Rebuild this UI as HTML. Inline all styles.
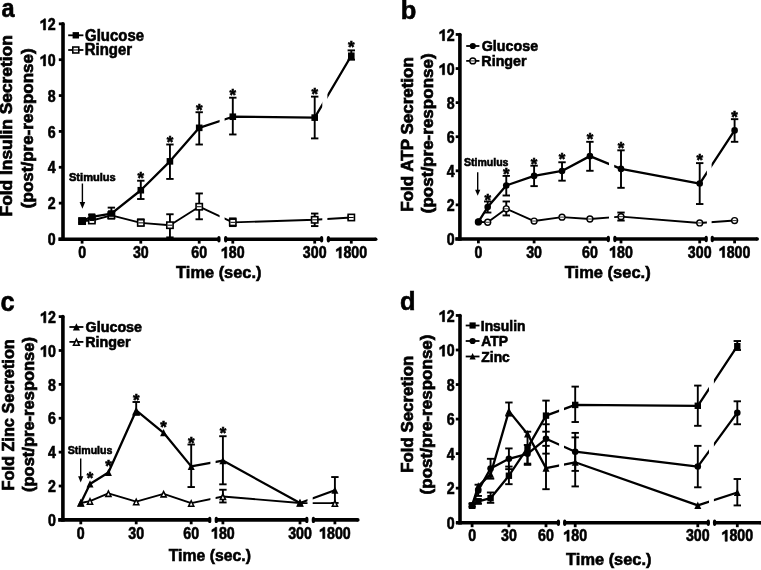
<!DOCTYPE html>
<html><head><meta charset="utf-8"><style>
html,body{margin:0;padding:0;background:#fff;overflow:hidden;}
svg{display:block;will-change:transform;}
text{font-family:"Liberation Sans", sans-serif;font-weight:bold;fill:#000;}
</style></head><body>
<svg width="761" height="570" viewBox="0 0 761 570">
<rect width="761" height="570" fill="#fff"/>
<line x1="63" y1="23.84" x2="63" y2="241" stroke="#000" stroke-width="3.6"/>
<circle cx="63" cy="23.84" r="1.8" fill="#000"/>
<line x1="58.8" y1="239" x2="63" y2="239" stroke="#000" stroke-width="2.8"/>
<text transform="translate(47.7,245.2) scale(1,1.13)" font-size="14.2" stroke="#000" stroke-width="0.53">0</text>
<line x1="58.8" y1="203.14" x2="63" y2="203.14" stroke="#000" stroke-width="2.8"/>
<text transform="translate(47.7,209.34) scale(1,1.13)" font-size="14.2" stroke="#000" stroke-width="0.53">2</text>
<line x1="58.8" y1="167.28" x2="63" y2="167.28" stroke="#000" stroke-width="2.8"/>
<text transform="translate(47.7,173.48) scale(1,1.13)" font-size="14.2" stroke="#000" stroke-width="0.53">4</text>
<line x1="58.8" y1="131.42" x2="63" y2="131.42" stroke="#000" stroke-width="2.8"/>
<text transform="translate(47.7,137.62) scale(1,1.13)" font-size="14.2" stroke="#000" stroke-width="0.53">6</text>
<line x1="58.8" y1="95.56" x2="63" y2="95.56" stroke="#000" stroke-width="2.8"/>
<text transform="translate(47.7,101.76) scale(1,1.13)" font-size="14.2" stroke="#000" stroke-width="0.53">8</text>
<line x1="58.8" y1="59.7" x2="63" y2="59.7" stroke="#000" stroke-width="2.8"/>
<polygon points="45.56,65.9 45.56,54.7 44,54.7 43.22,55.71 40.66,57.15 40.66,59.32 43.43,57.8 43.43,65.9" fill="#000" stroke="#000" stroke-width="0.6" stroke-linejoin="round"/>
<text transform="translate(47.7,65.9) scale(1,1.13)" font-size="14.2" stroke="#000" stroke-width="0.53">0</text>
<line x1="58.8" y1="23.84" x2="63" y2="23.84" stroke="#000" stroke-width="2.8"/>
<polygon points="45.56,30.04 45.56,18.84 44,18.84 43.22,19.85 40.66,21.29 40.66,23.46 43.43,21.94 43.43,30.04" fill="#000" stroke="#000" stroke-width="0.6" stroke-linejoin="round"/>
<text transform="translate(47.7,30.04) scale(1,1.13)" font-size="14.2" stroke="#000" stroke-width="0.53">2</text>
<line x1="58.4" y1="239.2" x2="218.9" y2="239.2" stroke="#000" stroke-width="3.6"/>
<line x1="225.7" y1="239.2" x2="321.6" y2="239.2" stroke="#000" stroke-width="3.6"/>
<line x1="328.4" y1="239.2" x2="375.7" y2="239.2" stroke="#000" stroke-width="3.6"/>
<ellipse cx="218.9" cy="239.2" rx="1.7" ry="3.2" fill="#000"/>
<ellipse cx="225.7" cy="239.2" rx="1.7" ry="3.2" fill="#000"/>
<ellipse cx="321.6" cy="239.2" rx="1.7" ry="3.2" fill="#000"/>
<ellipse cx="328.4" cy="239.2" rx="1.7" ry="3.2" fill="#000"/>
<circle cx="375.7" cy="239.2" r="1.8" fill="#000"/>
<line x1="82.1" y1="239.2" x2="82.1" y2="243.6" stroke="#000" stroke-width="2.8"/>
<text transform="translate(78.15,258.1) scale(1,1.13)" font-size="14.2" stroke="#000" stroke-width="0.53">0</text>
<line x1="140.8" y1="239.2" x2="140.8" y2="243.6" stroke="#000" stroke-width="2.8"/>
<text transform="translate(132.9,258.1) scale(1,1.13)" font-size="14.2" stroke="#000" stroke-width="0.53">3</text>
<text transform="translate(140.8,258.1) scale(1,1.13)" font-size="14.2" stroke="#000" stroke-width="0.53">0</text>
<line x1="199.2" y1="239.2" x2="199.2" y2="243.6" stroke="#000" stroke-width="2.8"/>
<text transform="translate(191.3,258.1) scale(1,1.13)" font-size="14.2" stroke="#000" stroke-width="0.53">6</text>
<text transform="translate(199.2,258.1) scale(1,1.13)" font-size="14.2" stroke="#000" stroke-width="0.53">0</text>
<line x1="232.8" y1="239.2" x2="232.8" y2="243.6" stroke="#000" stroke-width="2.8"/>
<polygon points="226.71,258.1 226.71,246.9 225.15,246.9 224.37,247.91 221.81,249.35 221.81,251.52 224.58,250 224.58,258.1" fill="#000" stroke="#000" stroke-width="0.6" stroke-linejoin="round"/>
<text transform="translate(228.85,258.1) scale(1,1.13)" font-size="14.2" stroke="#000" stroke-width="0.53">8</text>
<text transform="translate(236.75,258.1) scale(1,1.13)" font-size="14.2" stroke="#000" stroke-width="0.53">0</text>
<line x1="314.7" y1="239.2" x2="314.7" y2="243.6" stroke="#000" stroke-width="2.8"/>
<text transform="translate(302.86,258.1) scale(1,1.13)" font-size="14.2" stroke="#000" stroke-width="0.53">3</text>
<text transform="translate(310.75,258.1) scale(1,1.13)" font-size="14.2" stroke="#000" stroke-width="0.53">0</text>
<text transform="translate(318.65,258.1) scale(1,1.13)" font-size="14.2" stroke="#000" stroke-width="0.53">0</text>
<line x1="351.3" y1="239.2" x2="351.3" y2="243.6" stroke="#000" stroke-width="2.8"/>
<polygon points="341.26,258.1 341.26,246.9 339.7,246.9 338.92,247.91 336.36,249.35 336.36,251.52 339.13,250 339.13,258.1" fill="#000" stroke="#000" stroke-width="0.6" stroke-linejoin="round"/>
<text transform="translate(343.4,258.1) scale(1,1.13)" font-size="14.2" stroke="#000" stroke-width="0.53">8</text>
<text transform="translate(351.3,258.1) scale(1,1.13)" font-size="14.2" stroke="#000" stroke-width="0.53">0</text>
<text transform="translate(359.2,258.1) scale(1,1.13)" font-size="14.2" stroke="#000" stroke-width="0.53">0</text>
<text transform="translate(176.12,278.3) scale(1,1.04)" font-size="16.4" stroke="#000" stroke-width="0.58">Time (sec.)</text>
<text transform="translate(11.9,125.7) rotate(-90) scale(1.04,1) translate(-87.26,0)" font-size="16.7" stroke="#000" stroke-width="0.7">Fold Insulin Secretion</text>
<text transform="translate(32.5,128.2) rotate(-90) scale(1.02,1) translate(-78.41,0)" font-size="16.7" stroke="#000" stroke-width="0.7">(post/pre-response)</text>
<text transform="translate(1.41,16.9) scale(1,1.09)" font-size="23.5" stroke="#000" stroke-width="0.55">a</text>
<clipPath id="ca">
<rect x="43" y="-6.16" width="176.6" height="243.36"/>
<rect x="224.6" y="-6.16" width="97.7" height="243.36"/>
<rect x="327.4" y="-6.16" width="442.6" height="243.36"/>
</clipPath>
<path d="M82.1,221.07 L91.86,216.77 L111.38,213.54 L140.8,190.23 L169.93,161.36 L199.2,127.83 L232.8,116.72 L314.7,117.61 L351.3,55.76" fill="none" stroke="#000" stroke-width="2.3" stroke-linejoin="round" clip-path="url(#ca)"/>
<path d="M82.1,221.07 L91.86,220.53 L111.38,215.33 L140.8,222.86 L169.93,225.19 L199.2,206.73 L232.8,222.33 L314.7,219.81 L351.3,217.48" fill="none" stroke="#000" stroke-width="1.9" stroke-linejoin="round" clip-path="url(#ca)"/>
<line x1="82.1" y1="219.28" x2="82.1" y2="221.07" stroke="#000" stroke-width="1.9"/>
<line x1="78.4" y1="219.28" x2="85.8" y2="219.28" stroke="#000" stroke-width="1.9"/>
<line x1="82.1" y1="222.5" x2="82.1" y2="221.07" stroke="#000" stroke-width="1.9"/>
<line x1="78.4" y1="222.5" x2="85.8" y2="222.5" stroke="#000" stroke-width="1.9"/>
<line x1="91.86" y1="214.79" x2="91.86" y2="216.77" stroke="#000" stroke-width="1.9"/>
<line x1="88.16" y1="214.79" x2="95.56" y2="214.79" stroke="#000" stroke-width="1.9"/>
<line x1="91.86" y1="219.28" x2="91.86" y2="216.77" stroke="#000" stroke-width="1.9"/>
<line x1="88.16" y1="219.28" x2="95.56" y2="219.28" stroke="#000" stroke-width="1.9"/>
<line x1="111.38" y1="207.62" x2="111.38" y2="213.54" stroke="#000" stroke-width="1.9"/>
<line x1="107.67" y1="207.62" x2="115.08" y2="207.62" stroke="#000" stroke-width="1.9"/>
<line x1="111.38" y1="218.38" x2="111.38" y2="213.54" stroke="#000" stroke-width="1.9"/>
<line x1="107.67" y1="218.38" x2="115.08" y2="218.38" stroke="#000" stroke-width="1.9"/>
<line x1="140.8" y1="180.73" x2="140.8" y2="190.23" stroke="#000" stroke-width="1.9"/>
<line x1="137.1" y1="180.73" x2="144.5" y2="180.73" stroke="#000" stroke-width="1.9"/>
<line x1="140.8" y1="199.02" x2="140.8" y2="190.23" stroke="#000" stroke-width="1.9"/>
<line x1="137.1" y1="199.02" x2="144.5" y2="199.02" stroke="#000" stroke-width="1.9"/>
<line x1="169.93" y1="144.51" x2="169.93" y2="161.36" stroke="#000" stroke-width="1.9"/>
<line x1="166.23" y1="144.51" x2="173.62" y2="144.51" stroke="#000" stroke-width="1.9"/>
<line x1="169.93" y1="178.93" x2="169.93" y2="161.36" stroke="#000" stroke-width="1.9"/>
<line x1="166.23" y1="178.93" x2="173.62" y2="178.93" stroke="#000" stroke-width="1.9"/>
<line x1="199.2" y1="112.23" x2="199.2" y2="127.83" stroke="#000" stroke-width="1.9"/>
<line x1="195.5" y1="112.23" x2="202.9" y2="112.23" stroke="#000" stroke-width="1.9"/>
<line x1="199.2" y1="144.51" x2="199.2" y2="127.83" stroke="#000" stroke-width="1.9"/>
<line x1="195.5" y1="144.51" x2="202.9" y2="144.51" stroke="#000" stroke-width="1.9"/>
<line x1="232.8" y1="97.71" x2="232.8" y2="116.72" stroke="#000" stroke-width="1.9"/>
<line x1="229.1" y1="97.71" x2="236.5" y2="97.71" stroke="#000" stroke-width="1.9"/>
<line x1="232.8" y1="134.47" x2="232.8" y2="116.72" stroke="#000" stroke-width="1.9"/>
<line x1="229.1" y1="134.47" x2="236.5" y2="134.47" stroke="#000" stroke-width="1.9"/>
<line x1="314.7" y1="96.64" x2="314.7" y2="117.61" stroke="#000" stroke-width="1.9"/>
<line x1="311" y1="96.64" x2="318.4" y2="96.64" stroke="#000" stroke-width="1.9"/>
<line x1="314.7" y1="138.41" x2="314.7" y2="117.61" stroke="#000" stroke-width="1.9"/>
<line x1="311" y1="138.41" x2="318.4" y2="138.41" stroke="#000" stroke-width="1.9"/>
<line x1="351.3" y1="50.38" x2="351.3" y2="55.76" stroke="#000" stroke-width="1.9"/>
<line x1="347.6" y1="50.38" x2="355" y2="50.38" stroke="#000" stroke-width="1.9"/>
<line x1="351.3" y1="59.7" x2="351.3" y2="55.76" stroke="#000" stroke-width="1.9"/>
<line x1="347.6" y1="59.7" x2="355" y2="59.7" stroke="#000" stroke-width="1.9"/>
<line x1="91.86" y1="218.38" x2="91.86" y2="220.53" stroke="#000" stroke-width="1.9"/>
<line x1="88.16" y1="218.38" x2="95.56" y2="218.38" stroke="#000" stroke-width="1.9"/>
<line x1="91.86" y1="221.97" x2="91.86" y2="220.53" stroke="#000" stroke-width="1.9"/>
<line x1="88.16" y1="221.97" x2="95.56" y2="221.97" stroke="#000" stroke-width="1.9"/>
<line x1="111.38" y1="212.1" x2="111.38" y2="215.33" stroke="#000" stroke-width="1.9"/>
<line x1="107.67" y1="212.1" x2="115.08" y2="212.1" stroke="#000" stroke-width="1.9"/>
<line x1="111.38" y1="218.38" x2="111.38" y2="215.33" stroke="#000" stroke-width="1.9"/>
<line x1="107.67" y1="218.38" x2="115.08" y2="218.38" stroke="#000" stroke-width="1.9"/>
<line x1="140.8" y1="219.28" x2="140.8" y2="222.86" stroke="#000" stroke-width="1.9"/>
<line x1="137.1" y1="219.28" x2="144.5" y2="219.28" stroke="#000" stroke-width="1.9"/>
<line x1="140.8" y1="225.55" x2="140.8" y2="222.86" stroke="#000" stroke-width="1.9"/>
<line x1="137.1" y1="225.55" x2="144.5" y2="225.55" stroke="#000" stroke-width="1.9"/>
<line x1="169.93" y1="214.26" x2="169.93" y2="225.19" stroke="#000" stroke-width="1.9"/>
<line x1="166.23" y1="214.26" x2="173.62" y2="214.26" stroke="#000" stroke-width="1.9"/>
<line x1="169.93" y1="237.39" x2="169.93" y2="225.19" stroke="#000" stroke-width="1.9"/>
<line x1="166.23" y1="237.39" x2="173.62" y2="237.39" stroke="#000" stroke-width="1.9"/>
<line x1="199.2" y1="193.46" x2="199.2" y2="206.73" stroke="#000" stroke-width="1.9"/>
<line x1="195.5" y1="193.46" x2="202.9" y2="193.46" stroke="#000" stroke-width="1.9"/>
<line x1="199.2" y1="219.28" x2="199.2" y2="206.73" stroke="#000" stroke-width="1.9"/>
<line x1="195.5" y1="219.28" x2="202.9" y2="219.28" stroke="#000" stroke-width="1.9"/>
<line x1="232.8" y1="218.38" x2="232.8" y2="222.33" stroke="#000" stroke-width="1.9"/>
<line x1="229.1" y1="218.38" x2="236.5" y2="218.38" stroke="#000" stroke-width="1.9"/>
<line x1="232.8" y1="226.09" x2="232.8" y2="222.33" stroke="#000" stroke-width="1.9"/>
<line x1="229.1" y1="226.09" x2="236.5" y2="226.09" stroke="#000" stroke-width="1.9"/>
<line x1="314.7" y1="213.54" x2="314.7" y2="219.81" stroke="#000" stroke-width="1.9"/>
<line x1="311" y1="213.54" x2="318.4" y2="213.54" stroke="#000" stroke-width="1.9"/>
<line x1="314.7" y1="226.09" x2="314.7" y2="219.81" stroke="#000" stroke-width="1.9"/>
<line x1="311" y1="226.09" x2="318.4" y2="226.09" stroke="#000" stroke-width="1.9"/>
<line x1="351.3" y1="215.69" x2="351.3" y2="217.48" stroke="#000" stroke-width="1.9"/>
<line x1="347.6" y1="215.69" x2="355" y2="215.69" stroke="#000" stroke-width="1.9"/>
<line x1="351.3" y1="219.28" x2="351.3" y2="217.48" stroke="#000" stroke-width="1.9"/>
<line x1="347.6" y1="219.28" x2="355" y2="219.28" stroke="#000" stroke-width="1.9"/>
<rect x="78.15" y="217.12" width="7.9" height="7.9" fill="#000"/>
<rect x="79.75" y="218.72" width="4.7" height="4.7" fill="#fff"/>
<line x1="79.75" y1="221.07" x2="84.45" y2="221.07" stroke="#000" stroke-width="1"/>
<rect x="87.91" y="216.58" width="7.9" height="7.9" fill="#000"/>
<rect x="89.51" y="218.18" width="4.7" height="4.7" fill="#fff"/>
<line x1="89.51" y1="220.53" x2="94.21" y2="220.53" stroke="#000" stroke-width="1"/>
<rect x="107.42" y="211.38" width="7.9" height="7.9" fill="#000"/>
<rect x="109.02" y="212.98" width="4.7" height="4.7" fill="#fff"/>
<line x1="109.02" y1="215.33" x2="113.73" y2="215.33" stroke="#000" stroke-width="1"/>
<rect x="136.85" y="218.91" width="7.9" height="7.9" fill="#000"/>
<rect x="138.45" y="220.51" width="4.7" height="4.7" fill="#fff"/>
<line x1="138.45" y1="222.86" x2="143.15" y2="222.86" stroke="#000" stroke-width="1"/>
<rect x="165.98" y="221.24" width="7.9" height="7.9" fill="#000"/>
<rect x="167.58" y="222.84" width="4.7" height="4.7" fill="#fff"/>
<line x1="167.58" y1="225.19" x2="172.28" y2="225.19" stroke="#000" stroke-width="1"/>
<rect x="195.25" y="202.78" width="7.9" height="7.9" fill="#000"/>
<rect x="196.85" y="204.38" width="4.7" height="4.7" fill="#fff"/>
<line x1="196.85" y1="206.73" x2="201.55" y2="206.73" stroke="#000" stroke-width="1"/>
<rect x="228.85" y="218.38" width="7.9" height="7.9" fill="#000"/>
<rect x="230.45" y="219.98" width="4.7" height="4.7" fill="#fff"/>
<line x1="230.45" y1="222.33" x2="235.15" y2="222.33" stroke="#000" stroke-width="1"/>
<rect x="310.75" y="215.86" width="7.9" height="7.9" fill="#000"/>
<rect x="312.35" y="217.46" width="4.7" height="4.7" fill="#fff"/>
<line x1="312.35" y1="219.81" x2="317.05" y2="219.81" stroke="#000" stroke-width="1"/>
<rect x="347.35" y="213.53" width="7.9" height="7.9" fill="#000"/>
<rect x="348.95" y="215.13" width="4.7" height="4.7" fill="#fff"/>
<line x1="348.95" y1="217.48" x2="353.65" y2="217.48" stroke="#000" stroke-width="1"/>
<rect x="78.8" y="217.77" width="6.6" height="6.6" fill="#000"/>
<rect x="88.56" y="213.47" width="6.6" height="6.6" fill="#000"/>
<rect x="108.08" y="210.24" width="6.6" height="6.6" fill="#000"/>
<rect x="137.5" y="186.93" width="6.6" height="6.6" fill="#000"/>
<rect x="166.62" y="158.06" width="6.6" height="6.6" fill="#000"/>
<rect x="195.9" y="124.53" width="6.6" height="6.6" fill="#000"/>
<rect x="229.5" y="113.42" width="6.6" height="6.6" fill="#000"/>
<rect x="311.4" y="114.31" width="6.6" height="6.6" fill="#000"/>
<rect x="348" y="52.46" width="6.6" height="6.6" fill="#000"/>
<text transform="translate(140.8,183.73)" font-size="16.8" text-anchor="middle" stroke="#000" stroke-width="0.6">*</text>
<text transform="translate(169.93,147.73)" font-size="16.8" text-anchor="middle" stroke="#000" stroke-width="0.6">*</text>
<text transform="translate(199.2,115.73)" font-size="16.8" text-anchor="middle" stroke="#000" stroke-width="0.6">*</text>
<text transform="translate(232.8,101.23)" font-size="16.8" text-anchor="middle" stroke="#000" stroke-width="0.6">*</text>
<text transform="translate(314.7,100.23)" font-size="16.8" text-anchor="middle" stroke="#000" stroke-width="0.6">*</text>
<text transform="translate(351.3,53.23)" font-size="16.8" text-anchor="middle" stroke="#000" stroke-width="0.6">*</text>
<text transform="translate(68.98,180.6)" font-size="11.08" stroke="#000" stroke-width="0.6">Stimulus</text>
<line x1="82.4" y1="183.5" x2="82.4" y2="203.1" stroke="#000" stroke-width="1.4"/>
<polygon points="79.6,202.1 85.2,202.1 82.4,208.8" fill="#000"/>
<line x1="68.2" y1="35.3" x2="83.4" y2="35.3" stroke="#000" stroke-width="1.8"/>
<rect x="72.6" y="32.1" width="6.4" height="6.4" fill="#000"/>
<text transform="translate(85.09,41.1) scale(1,1.08)" font-size="14.96" stroke="#000" stroke-width="0.56">Glucose</text>
<line x1="68.2" y1="50" x2="83.4" y2="50" stroke="#000" stroke-width="1.8"/>
<rect x="72.02" y="46.22" width="7.55" height="7.55" fill="#000"/>
<rect x="73.62" y="47.82" width="4.35" height="4.35" fill="#fff"/>
<line x1="73.62" y1="50" x2="77.98" y2="50" stroke="#000" stroke-width="1"/>
<text transform="translate(84.7,55.1) scale(1,1.08)" font-size="14.96" stroke="#000" stroke-width="0.56">Ringer</text>
<line x1="459.9" y1="34.47" x2="459.9" y2="240.75" stroke="#000" stroke-width="3.6"/>
<circle cx="459.9" cy="34.47" r="1.8" fill="#000"/>
<line x1="455.7" y1="238.95" x2="459.9" y2="238.95" stroke="#000" stroke-width="2.8"/>
<text transform="translate(446.7,245.15) scale(1,1.13)" font-size="14.2" stroke="#000" stroke-width="0.53">0</text>
<line x1="455.7" y1="204.87" x2="459.9" y2="204.87" stroke="#000" stroke-width="2.8"/>
<text transform="translate(446.7,211.07) scale(1,1.13)" font-size="14.2" stroke="#000" stroke-width="0.53">2</text>
<line x1="455.7" y1="170.79" x2="459.9" y2="170.79" stroke="#000" stroke-width="2.8"/>
<text transform="translate(446.7,176.99) scale(1,1.13)" font-size="14.2" stroke="#000" stroke-width="0.53">4</text>
<line x1="455.7" y1="136.71" x2="459.9" y2="136.71" stroke="#000" stroke-width="2.8"/>
<text transform="translate(446.7,142.91) scale(1,1.13)" font-size="14.2" stroke="#000" stroke-width="0.53">6</text>
<line x1="455.7" y1="102.63" x2="459.9" y2="102.63" stroke="#000" stroke-width="2.8"/>
<text transform="translate(446.7,108.83) scale(1,1.13)" font-size="14.2" stroke="#000" stroke-width="0.53">8</text>
<line x1="455.7" y1="68.55" x2="459.9" y2="68.55" stroke="#000" stroke-width="2.8"/>
<polygon points="444.56,74.75 444.56,63.55 443,63.55 442.22,64.56 439.66,66 439.66,68.17 442.43,66.65 442.43,74.75" fill="#000" stroke="#000" stroke-width="0.6" stroke-linejoin="round"/>
<text transform="translate(446.7,74.75) scale(1,1.13)" font-size="14.2" stroke="#000" stroke-width="0.53">0</text>
<line x1="455.7" y1="34.47" x2="459.9" y2="34.47" stroke="#000" stroke-width="2.8"/>
<polygon points="444.56,40.67 444.56,29.47 443,29.47 442.22,30.48 439.66,31.92 439.66,34.09 442.43,32.57 442.43,40.67" fill="#000" stroke="#000" stroke-width="0.6" stroke-linejoin="round"/>
<text transform="translate(446.7,40.67) scale(1,1.13)" font-size="14.2" stroke="#000" stroke-width="0.53">2</text>
<line x1="455.3" y1="238.95" x2="608.3" y2="238.95" stroke="#000" stroke-width="3.6"/>
<line x1="614.9" y1="238.95" x2="706.2" y2="238.95" stroke="#000" stroke-width="3.6"/>
<line x1="712.3" y1="238.95" x2="757.2" y2="238.95" stroke="#000" stroke-width="3.6"/>
<ellipse cx="608.3" cy="238.95" rx="1.7" ry="3.2" fill="#000"/>
<ellipse cx="614.9" cy="238.95" rx="1.7" ry="3.2" fill="#000"/>
<ellipse cx="706.2" cy="238.95" rx="1.7" ry="3.2" fill="#000"/>
<ellipse cx="712.3" cy="238.95" rx="1.7" ry="3.2" fill="#000"/>
<circle cx="757.2" cy="238.95" r="1.8" fill="#000"/>
<line x1="478.4" y1="238.95" x2="478.4" y2="243.35" stroke="#000" stroke-width="2.8"/>
<text transform="translate(474.45,257.55) scale(1,1.13)" font-size="14.2" stroke="#000" stroke-width="0.53">0</text>
<line x1="534.1" y1="238.95" x2="534.1" y2="243.35" stroke="#000" stroke-width="2.8"/>
<text transform="translate(526.2,257.55) scale(1,1.13)" font-size="14.2" stroke="#000" stroke-width="0.53">3</text>
<text transform="translate(534.1,257.55) scale(1,1.13)" font-size="14.2" stroke="#000" stroke-width="0.53">0</text>
<line x1="589.9" y1="238.95" x2="589.9" y2="243.35" stroke="#000" stroke-width="2.8"/>
<text transform="translate(582,257.55) scale(1,1.13)" font-size="14.2" stroke="#000" stroke-width="0.53">6</text>
<text transform="translate(589.9,257.55) scale(1,1.13)" font-size="14.2" stroke="#000" stroke-width="0.53">0</text>
<line x1="621" y1="238.95" x2="621" y2="243.35" stroke="#000" stroke-width="2.8"/>
<polygon points="614.91,257.55 614.91,246.35 613.35,246.35 612.57,247.36 610.01,248.8 610.01,250.97 612.78,249.45 612.78,257.55" fill="#000" stroke="#000" stroke-width="0.6" stroke-linejoin="round"/>
<text transform="translate(617.05,257.55) scale(1,1.13)" font-size="14.2" stroke="#000" stroke-width="0.53">8</text>
<text transform="translate(624.95,257.55) scale(1,1.13)" font-size="14.2" stroke="#000" stroke-width="0.53">0</text>
<line x1="699.7" y1="238.95" x2="699.7" y2="243.35" stroke="#000" stroke-width="2.8"/>
<text transform="translate(687.86,257.55) scale(1,1.13)" font-size="14.2" stroke="#000" stroke-width="0.53">3</text>
<text transform="translate(695.75,257.55) scale(1,1.13)" font-size="14.2" stroke="#000" stroke-width="0.53">0</text>
<text transform="translate(703.65,257.55) scale(1,1.13)" font-size="14.2" stroke="#000" stroke-width="0.53">0</text>
<line x1="734.6" y1="238.95" x2="734.6" y2="243.35" stroke="#000" stroke-width="2.8"/>
<polygon points="724.56,257.55 724.56,246.35 723,246.35 722.22,247.36 719.66,248.8 719.66,250.97 722.43,249.45 722.43,257.55" fill="#000" stroke="#000" stroke-width="0.6" stroke-linejoin="round"/>
<text transform="translate(726.7,257.55) scale(1,1.13)" font-size="14.2" stroke="#000" stroke-width="0.53">8</text>
<text transform="translate(734.6,257.55) scale(1,1.13)" font-size="14.2" stroke="#000" stroke-width="0.53">0</text>
<text transform="translate(742.5,257.55) scale(1,1.13)" font-size="14.2" stroke="#000" stroke-width="0.53">0</text>
<text transform="translate(564.81,278.4) scale(1,1.05)" font-size="16.5" stroke="#000" stroke-width="0.57">Time (sec.)</text>
<text transform="translate(413.1,133.2) rotate(-90) scale(1.05,1) translate(-74.75,0)" font-size="16.2" stroke="#000" stroke-width="0.7">Fold ATP Secretion</text>
<text transform="translate(432.6,133.25) rotate(-90) scale(1.02,1) translate(-78.41,0)" font-size="16.7" stroke="#000" stroke-width="0.7">(post/pre-response)</text>
<text transform="translate(400.72,18.5)" font-size="25.5" stroke="#000" stroke-width="0.6">b</text>
<clipPath id="cb">
<rect x="439.9" y="4.47" width="169.1" height="232.48"/>
<rect x="614.2" y="4.47" width="92.7" height="232.48"/>
<rect x="711.6" y="4.47" width="58.4" height="232.48"/>
</clipPath>
<path d="M478.4,221.91 L487.69,207.09 L506.27,185.44 L534.1,175.9 L562.02,170.96 L589.9,156.14 L621,168.92 L699.7,183.57 L734.6,130.41" fill="none" stroke="#000" stroke-width="2.3" stroke-linejoin="round" clip-path="url(#cb)"/>
<path d="M478.4,221.91 L487.69,222.25 L506.27,208.79 L534.1,221.06 L562.02,217.14 L589.9,219.01 L621,216.63 L699.7,222.93 L734.6,220.55" fill="none" stroke="#000" stroke-width="1.9" stroke-linejoin="round" clip-path="url(#cb)"/>
<line x1="487.69" y1="201.46" x2="487.69" y2="207.09" stroke="#000" stroke-width="1.9"/>
<line x1="483.99" y1="201.46" x2="491.39" y2="201.46" stroke="#000" stroke-width="1.9"/>
<line x1="487.69" y1="212.54" x2="487.69" y2="207.09" stroke="#000" stroke-width="1.9"/>
<line x1="483.99" y1="212.54" x2="491.39" y2="212.54" stroke="#000" stroke-width="1.9"/>
<line x1="506.27" y1="175.9" x2="506.27" y2="185.44" stroke="#000" stroke-width="1.9"/>
<line x1="502.57" y1="175.9" x2="509.97" y2="175.9" stroke="#000" stroke-width="1.9"/>
<line x1="506.27" y1="195.5" x2="506.27" y2="185.44" stroke="#000" stroke-width="1.9"/>
<line x1="502.57" y1="195.5" x2="509.97" y2="195.5" stroke="#000" stroke-width="1.9"/>
<line x1="534.1" y1="165.68" x2="534.1" y2="175.9" stroke="#000" stroke-width="1.9"/>
<line x1="530.4" y1="165.68" x2="537.8" y2="165.68" stroke="#000" stroke-width="1.9"/>
<line x1="534.1" y1="186.13" x2="534.1" y2="175.9" stroke="#000" stroke-width="1.9"/>
<line x1="530.4" y1="186.13" x2="537.8" y2="186.13" stroke="#000" stroke-width="1.9"/>
<line x1="562.02" y1="162.27" x2="562.02" y2="170.96" stroke="#000" stroke-width="1.9"/>
<line x1="558.32" y1="162.27" x2="565.73" y2="162.27" stroke="#000" stroke-width="1.9"/>
<line x1="562.02" y1="180.67" x2="562.02" y2="170.96" stroke="#000" stroke-width="1.9"/>
<line x1="558.32" y1="180.67" x2="565.73" y2="180.67" stroke="#000" stroke-width="1.9"/>
<line x1="589.9" y1="141.82" x2="589.9" y2="156.14" stroke="#000" stroke-width="1.9"/>
<line x1="586.2" y1="141.82" x2="593.6" y2="141.82" stroke="#000" stroke-width="1.9"/>
<line x1="589.9" y1="170.79" x2="589.9" y2="156.14" stroke="#000" stroke-width="1.9"/>
<line x1="586.2" y1="170.79" x2="593.6" y2="170.79" stroke="#000" stroke-width="1.9"/>
<line x1="621" y1="150.34" x2="621" y2="168.92" stroke="#000" stroke-width="1.9"/>
<line x1="617.3" y1="150.34" x2="624.7" y2="150.34" stroke="#000" stroke-width="1.9"/>
<line x1="621" y1="187.83" x2="621" y2="168.92" stroke="#000" stroke-width="1.9"/>
<line x1="617.3" y1="187.83" x2="624.7" y2="187.83" stroke="#000" stroke-width="1.9"/>
<line x1="699.7" y1="163.12" x2="699.7" y2="183.57" stroke="#000" stroke-width="1.9"/>
<line x1="696" y1="163.12" x2="703.4" y2="163.12" stroke="#000" stroke-width="1.9"/>
<line x1="699.7" y1="204.02" x2="699.7" y2="183.57" stroke="#000" stroke-width="1.9"/>
<line x1="696" y1="204.02" x2="703.4" y2="204.02" stroke="#000" stroke-width="1.9"/>
<line x1="734.6" y1="119.16" x2="734.6" y2="130.41" stroke="#000" stroke-width="1.9"/>
<line x1="730.9" y1="119.16" x2="738.3" y2="119.16" stroke="#000" stroke-width="1.9"/>
<line x1="734.6" y1="141.82" x2="734.6" y2="130.41" stroke="#000" stroke-width="1.9"/>
<line x1="730.9" y1="141.82" x2="738.3" y2="141.82" stroke="#000" stroke-width="1.9"/>
<line x1="506.27" y1="201.46" x2="506.27" y2="208.79" stroke="#000" stroke-width="1.9"/>
<line x1="502.57" y1="201.46" x2="509.97" y2="201.46" stroke="#000" stroke-width="1.9"/>
<line x1="506.27" y1="215.43" x2="506.27" y2="208.79" stroke="#000" stroke-width="1.9"/>
<line x1="502.57" y1="215.43" x2="509.97" y2="215.43" stroke="#000" stroke-width="1.9"/>
<line x1="621" y1="212.54" x2="621" y2="216.63" stroke="#000" stroke-width="1.9"/>
<line x1="617.3" y1="212.54" x2="624.7" y2="212.54" stroke="#000" stroke-width="1.9"/>
<line x1="621" y1="220.55" x2="621" y2="216.63" stroke="#000" stroke-width="1.9"/>
<line x1="617.3" y1="220.55" x2="624.7" y2="220.55" stroke="#000" stroke-width="1.9"/>
<circle cx="478.4" cy="221.91" r="3.65" fill="#000"/>
<circle cx="478.4" cy="221.91" r="2.2" fill="#fff"/>
<line x1="476.2" y1="221.91" x2="480.6" y2="221.91" stroke="#000" stroke-width="0.8"/>
<circle cx="487.69" cy="222.25" r="3.65" fill="#000"/>
<circle cx="487.69" cy="222.25" r="2.2" fill="#fff"/>
<line x1="485.49" y1="222.25" x2="489.89" y2="222.25" stroke="#000" stroke-width="0.8"/>
<circle cx="506.27" cy="208.79" r="3.65" fill="#000"/>
<circle cx="506.27" cy="208.79" r="2.2" fill="#fff"/>
<line x1="504.07" y1="208.79" x2="508.47" y2="208.79" stroke="#000" stroke-width="0.8"/>
<circle cx="534.1" cy="221.06" r="3.65" fill="#000"/>
<circle cx="534.1" cy="221.06" r="2.2" fill="#fff"/>
<line x1="531.9" y1="221.06" x2="536.3" y2="221.06" stroke="#000" stroke-width="0.8"/>
<circle cx="562.02" cy="217.14" r="3.65" fill="#000"/>
<circle cx="562.02" cy="217.14" r="2.2" fill="#fff"/>
<line x1="559.83" y1="217.14" x2="564.22" y2="217.14" stroke="#000" stroke-width="0.8"/>
<circle cx="589.9" cy="219.01" r="3.65" fill="#000"/>
<circle cx="589.9" cy="219.01" r="2.2" fill="#fff"/>
<line x1="587.7" y1="219.01" x2="592.1" y2="219.01" stroke="#000" stroke-width="0.8"/>
<circle cx="621" cy="216.63" r="3.65" fill="#000"/>
<circle cx="621" cy="216.63" r="2.2" fill="#fff"/>
<line x1="618.8" y1="216.63" x2="623.2" y2="216.63" stroke="#000" stroke-width="0.8"/>
<circle cx="699.7" cy="222.93" r="3.65" fill="#000"/>
<circle cx="699.7" cy="222.93" r="2.2" fill="#fff"/>
<line x1="697.5" y1="222.93" x2="701.9" y2="222.93" stroke="#000" stroke-width="0.8"/>
<circle cx="734.6" cy="220.55" r="3.65" fill="#000"/>
<circle cx="734.6" cy="220.55" r="2.2" fill="#fff"/>
<line x1="732.4" y1="220.55" x2="736.8" y2="220.55" stroke="#000" stroke-width="0.8"/>
<circle cx="478.4" cy="221.91" r="3.3" fill="#000"/>
<circle cx="487.69" cy="207.09" r="3.3" fill="#000"/>
<circle cx="506.27" cy="185.44" r="3.3" fill="#000"/>
<circle cx="534.1" cy="175.9" r="3.3" fill="#000"/>
<circle cx="562.02" cy="170.96" r="3.3" fill="#000"/>
<circle cx="589.9" cy="156.14" r="3.3" fill="#000"/>
<circle cx="621" cy="168.92" r="3.3" fill="#000"/>
<circle cx="699.7" cy="183.57" r="3.3" fill="#000"/>
<circle cx="734.6" cy="130.41" r="3.3" fill="#000"/>
<text transform="translate(487.69,206.43)" font-size="16.8" text-anchor="middle" stroke="#000" stroke-width="0.6">*</text>
<text transform="translate(506.27,179.73)" font-size="16.8" text-anchor="middle" stroke="#000" stroke-width="0.6">*</text>
<text transform="translate(534.1,169.53)" font-size="16.8" text-anchor="middle" stroke="#000" stroke-width="0.6">*</text>
<text transform="translate(562.02,165.33)" font-size="16.8" text-anchor="middle" stroke="#000" stroke-width="0.6">*</text>
<text transform="translate(589.9,145.33)" font-size="16.8" text-anchor="middle" stroke="#000" stroke-width="0.6">*</text>
<text transform="translate(621,154.43)" font-size="16.8" text-anchor="middle" stroke="#000" stroke-width="0.6">*</text>
<text transform="translate(699.7,166.43)" font-size="16.8" text-anchor="middle" stroke="#000" stroke-width="0.6">*</text>
<text transform="translate(734.6,123.23)" font-size="16.8" text-anchor="middle" stroke="#000" stroke-width="0.6">*</text>
<text transform="translate(464,166) scale(1,1.07)" font-size="10.55" stroke="#000" stroke-width="0.56">Stimulus</text>
<line x1="477.7" y1="172.2" x2="477.7" y2="190.8" stroke="#000" stroke-width="1.4"/>
<polygon points="475.1,189.8 480.3,189.8 477.7,195.8" fill="#000"/>
<line x1="466.2" y1="46" x2="479.4" y2="46" stroke="#000" stroke-width="1.8"/>
<circle cx="472.8" cy="46" r="3.1" fill="#000"/>
<text transform="translate(481.71,51.3) scale(1,1.08)" font-size="14.3" stroke="#000" stroke-width="0.56">Glucose</text>
<line x1="466.2" y1="60.9" x2="479.4" y2="60.9" stroke="#000" stroke-width="1.8"/>
<circle cx="472.8" cy="60.9" r="3.66" fill="#000"/>
<circle cx="472.8" cy="60.9" r="2.21" fill="#fff"/>
<line x1="470.59" y1="60.9" x2="475.01" y2="60.9" stroke="#000" stroke-width="0.8"/>
<text transform="translate(481.34,66.2) scale(1,1.08)" font-size="14.3" stroke="#000" stroke-width="0.56">Ringer</text>
<line x1="62.9" y1="316.62" x2="62.9" y2="521.7" stroke="#000" stroke-width="3.6"/>
<circle cx="62.9" cy="316.62" r="1.8" fill="#000"/>
<line x1="58.7" y1="519.9" x2="62.9" y2="519.9" stroke="#000" stroke-width="2.8"/>
<text transform="translate(48,526.1) scale(1,1.13)" font-size="14.2" stroke="#000" stroke-width="0.53">0</text>
<line x1="58.7" y1="486.02" x2="62.9" y2="486.02" stroke="#000" stroke-width="2.8"/>
<text transform="translate(48,492.22) scale(1,1.13)" font-size="14.2" stroke="#000" stroke-width="0.53">2</text>
<line x1="58.7" y1="452.14" x2="62.9" y2="452.14" stroke="#000" stroke-width="2.8"/>
<text transform="translate(48,458.34) scale(1,1.13)" font-size="14.2" stroke="#000" stroke-width="0.53">4</text>
<line x1="58.7" y1="418.26" x2="62.9" y2="418.26" stroke="#000" stroke-width="2.8"/>
<text transform="translate(48,424.46) scale(1,1.13)" font-size="14.2" stroke="#000" stroke-width="0.53">6</text>
<line x1="58.7" y1="384.38" x2="62.9" y2="384.38" stroke="#000" stroke-width="2.8"/>
<text transform="translate(48,390.58) scale(1,1.13)" font-size="14.2" stroke="#000" stroke-width="0.53">8</text>
<line x1="58.7" y1="350.5" x2="62.9" y2="350.5" stroke="#000" stroke-width="2.8"/>
<polygon points="45.86,356.7 45.86,345.5 44.3,345.5 43.52,346.51 40.96,347.95 40.96,350.12 43.73,348.6 43.73,356.7" fill="#000" stroke="#000" stroke-width="0.6" stroke-linejoin="round"/>
<text transform="translate(48,356.7) scale(1,1.13)" font-size="14.2" stroke="#000" stroke-width="0.53">0</text>
<line x1="58.7" y1="316.62" x2="62.9" y2="316.62" stroke="#000" stroke-width="2.8"/>
<polygon points="45.86,322.82 45.86,311.62 44.3,311.62 43.52,312.63 40.96,314.07 40.96,316.24 43.73,314.72 43.73,322.82" fill="#000" stroke="#000" stroke-width="0.6" stroke-linejoin="round"/>
<text transform="translate(48,322.82) scale(1,1.13)" font-size="14.2" stroke="#000" stroke-width="0.53">2</text>
<line x1="58.2" y1="519.9" x2="209.7" y2="519.9" stroke="#000" stroke-width="3.6"/>
<line x1="216.3" y1="519.9" x2="306.8" y2="519.9" stroke="#000" stroke-width="3.6"/>
<line x1="313.4" y1="519.9" x2="357.8" y2="519.9" stroke="#000" stroke-width="3.6"/>
<ellipse cx="209.7" cy="519.9" rx="1.7" ry="3.2" fill="#000"/>
<ellipse cx="216.3" cy="519.9" rx="1.7" ry="3.2" fill="#000"/>
<ellipse cx="306.8" cy="519.9" rx="1.7" ry="3.2" fill="#000"/>
<ellipse cx="313.4" cy="519.9" rx="1.7" ry="3.2" fill="#000"/>
<circle cx="357.8" cy="519.9" r="1.8" fill="#000"/>
<line x1="80.8" y1="519.9" x2="80.8" y2="524.3" stroke="#000" stroke-width="2.8"/>
<text transform="translate(76.85,538.5) scale(1,1.13)" font-size="14.2" stroke="#000" stroke-width="0.53">0</text>
<line x1="136.2" y1="519.9" x2="136.2" y2="524.3" stroke="#000" stroke-width="2.8"/>
<text transform="translate(128.3,538.5) scale(1,1.13)" font-size="14.2" stroke="#000" stroke-width="0.53">3</text>
<text transform="translate(136.2,538.5) scale(1,1.13)" font-size="14.2" stroke="#000" stroke-width="0.53">0</text>
<line x1="191.2" y1="519.9" x2="191.2" y2="524.3" stroke="#000" stroke-width="2.8"/>
<text transform="translate(183.3,538.5) scale(1,1.13)" font-size="14.2" stroke="#000" stroke-width="0.53">6</text>
<text transform="translate(191.2,538.5) scale(1,1.13)" font-size="14.2" stroke="#000" stroke-width="0.53">0</text>
<line x1="222.9" y1="519.9" x2="222.9" y2="524.3" stroke="#000" stroke-width="2.8"/>
<polygon points="216.81,538.5 216.81,527.3 215.25,527.3 214.47,528.31 211.91,529.75 211.91,531.92 214.68,530.4 214.68,538.5" fill="#000" stroke="#000" stroke-width="0.6" stroke-linejoin="round"/>
<text transform="translate(218.95,538.5) scale(1,1.13)" font-size="14.2" stroke="#000" stroke-width="0.53">8</text>
<text transform="translate(226.85,538.5) scale(1,1.13)" font-size="14.2" stroke="#000" stroke-width="0.53">0</text>
<line x1="300" y1="519.9" x2="300" y2="524.3" stroke="#000" stroke-width="2.8"/>
<text transform="translate(288.16,538.5) scale(1,1.13)" font-size="14.2" stroke="#000" stroke-width="0.53">3</text>
<text transform="translate(296.05,538.5) scale(1,1.13)" font-size="14.2" stroke="#000" stroke-width="0.53">0</text>
<text transform="translate(303.95,538.5) scale(1,1.13)" font-size="14.2" stroke="#000" stroke-width="0.53">0</text>
<line x1="334.9" y1="519.9" x2="334.9" y2="524.3" stroke="#000" stroke-width="2.8"/>
<polygon points="324.86,538.5 324.86,527.3 323.3,527.3 322.52,528.31 319.96,529.75 319.96,531.92 322.73,530.4 322.73,538.5" fill="#000" stroke="#000" stroke-width="0.6" stroke-linejoin="round"/>
<text transform="translate(327,538.5) scale(1,1.13)" font-size="14.2" stroke="#000" stroke-width="0.53">8</text>
<text transform="translate(334.9,538.5) scale(1,1.13)" font-size="14.2" stroke="#000" stroke-width="0.53">0</text>
<text transform="translate(342.8,538.5) scale(1,1.13)" font-size="14.2" stroke="#000" stroke-width="0.53">0</text>
<text transform="translate(168.72,561.3) scale(1,1.05)" font-size="15.8" stroke="#000" stroke-width="0.57">Time (sec.)</text>
<text transform="translate(14.1,414.8) rotate(-90) scale(1.02,1) translate(-74.27,0)" font-size="16" stroke="#000" stroke-width="0.7">Fold Zinc Secretion</text>
<text transform="translate(33.9,414.5) rotate(-90) scale(1,1) translate(-77.47,0)" font-size="16.5" stroke="#000" stroke-width="0.7">(post/pre-response)</text>
<text transform="translate(0.51,311.3) scale(1,1.08)" font-size="25.4" stroke="#000" stroke-width="0.56">c</text>
<clipPath id="cc">
<rect x="42.9" y="286.62" width="167.5" height="231.28"/>
<rect x="215.6" y="286.62" width="91.9" height="231.28"/>
<rect x="312.7" y="286.62" width="457.3" height="231.28"/>
</clipPath>
<path d="M80.8,502.96 L90,483.99 L108.4,472.47 L136.2,410.47 L163.6,432.83 L191.2,466.37 L222.9,460.61 L300,502.96 L334.9,490.25" fill="none" stroke="#000" stroke-width="2.3" stroke-linejoin="round" clip-path="url(#cc)"/>
<path d="M80.8,502.96 L90,501.1 L108.4,493.3 L136.2,501.6 L163.6,493.81 L191.2,503.13 L222.9,496.52 L300,502.96 L334.9,503.13" fill="none" stroke="#000" stroke-width="1.9" stroke-linejoin="round" clip-path="url(#cc)"/>
<line x1="136.2" y1="402" x2="136.2" y2="410.47" stroke="#000" stroke-width="1.9"/>
<line x1="132.5" y1="402" x2="139.9" y2="402" stroke="#000" stroke-width="1.9"/>
<line x1="136.2" y1="414.87" x2="136.2" y2="410.47" stroke="#000" stroke-width="1.9"/>
<line x1="132.5" y1="414.87" x2="139.9" y2="414.87" stroke="#000" stroke-width="1.9"/>
<line x1="191.2" y1="444.52" x2="191.2" y2="466.37" stroke="#000" stroke-width="1.9"/>
<line x1="187.5" y1="444.52" x2="194.9" y2="444.52" stroke="#000" stroke-width="1.9"/>
<line x1="191.2" y1="487.04" x2="191.2" y2="466.37" stroke="#000" stroke-width="1.9"/>
<line x1="187.5" y1="487.04" x2="194.9" y2="487.04" stroke="#000" stroke-width="1.9"/>
<line x1="222.9" y1="436.22" x2="222.9" y2="460.61" stroke="#000" stroke-width="1.9"/>
<line x1="219.2" y1="436.22" x2="226.6" y2="436.22" stroke="#000" stroke-width="1.9"/>
<line x1="222.9" y1="484.33" x2="222.9" y2="460.61" stroke="#000" stroke-width="1.9"/>
<line x1="219.2" y1="484.33" x2="226.6" y2="484.33" stroke="#000" stroke-width="1.9"/>
<line x1="334.9" y1="477.04" x2="334.9" y2="490.25" stroke="#000" stroke-width="1.9"/>
<line x1="331.2" y1="477.04" x2="338.6" y2="477.04" stroke="#000" stroke-width="1.9"/>
<line x1="334.9" y1="502.96" x2="334.9" y2="490.25" stroke="#000" stroke-width="1.9"/>
<line x1="331.2" y1="502.96" x2="338.6" y2="502.96" stroke="#000" stroke-width="1.9"/>
<line x1="222.9" y1="489.75" x2="222.9" y2="496.52" stroke="#000" stroke-width="1.9"/>
<line x1="219.2" y1="489.75" x2="226.6" y2="489.75" stroke="#000" stroke-width="1.9"/>
<line x1="222.9" y1="502.45" x2="222.9" y2="496.52" stroke="#000" stroke-width="1.9"/>
<line x1="219.2" y1="502.45" x2="226.6" y2="502.45" stroke="#000" stroke-width="1.9"/>
<polygon points="80.8,498.81 84.6,506.79 77,506.79" fill="#000"/>
<polygon points="80.8,502.35 82.19,505.27 79.41,505.27" fill="#fff"/>
<polygon points="90,496.95 93.8,504.93 86.2,504.93" fill="#000"/>
<polygon points="90,500.48 91.39,503.41 88.61,503.41" fill="#fff"/>
<polygon points="108.4,489.15 112.2,497.13 104.6,497.13" fill="#000"/>
<polygon points="108.4,492.69 109.79,495.61 107.01,495.61" fill="#fff"/>
<polygon points="136.2,497.46 140,505.44 132.4,505.44" fill="#000"/>
<polygon points="136.2,500.99 137.59,503.92 134.81,503.92" fill="#fff"/>
<polygon points="163.6,489.66 167.4,497.64 159.8,497.64" fill="#000"/>
<polygon points="163.6,493.2 164.99,496.12 162.21,496.12" fill="#fff"/>
<polygon points="191.2,498.98 195,506.96 187.4,506.96" fill="#000"/>
<polygon points="191.2,502.52 192.59,505.44 189.81,505.44" fill="#fff"/>
<polygon points="222.9,492.37 226.7,500.35 219.1,500.35" fill="#000"/>
<polygon points="222.9,495.91 224.29,498.83 221.51,498.83" fill="#fff"/>
<polygon points="300,498.81 303.8,506.79 296.2,506.79" fill="#000"/>
<polygon points="300,502.35 301.39,505.27 298.61,505.27" fill="#fff"/>
<polygon points="334.9,498.98 338.7,506.96 331.1,506.96" fill="#000"/>
<polygon points="334.9,502.52 336.29,505.44 333.51,505.44" fill="#fff"/>
<polygon points="80.8,499.14 84.3,506.49 77.3,506.49" fill="#000"/>
<polygon points="90,480.17 93.5,487.52 86.5,487.52" fill="#000"/>
<polygon points="108.4,468.65 111.9,476 104.9,476" fill="#000"/>
<polygon points="136.2,406.65 139.7,414 132.7,414" fill="#000"/>
<polygon points="163.6,429.01 167.1,436.36 160.1,436.36" fill="#000"/>
<polygon points="191.2,462.55 194.7,469.9 187.7,469.9" fill="#000"/>
<polygon points="222.9,456.79 226.4,464.14 219.4,464.14" fill="#000"/>
<polygon points="300,499.14 303.5,506.49 296.5,506.49" fill="#000"/>
<polygon points="334.9,486.43 338.4,493.78 331.4,493.78" fill="#000"/>
<text transform="translate(90,484.23)" font-size="16.8" text-anchor="middle" stroke="#000" stroke-width="0.6">*</text>
<text transform="translate(108.4,472.43)" font-size="16.8" text-anchor="middle" stroke="#000" stroke-width="0.6">*</text>
<text transform="translate(136.2,406.03)" font-size="16.8" text-anchor="middle" stroke="#000" stroke-width="0.6">*</text>
<text transform="translate(163.6,432.93)" font-size="16.8" text-anchor="middle" stroke="#000" stroke-width="0.6">*</text>
<text transform="translate(191.2,449.23)" font-size="16.8" text-anchor="middle" stroke="#000" stroke-width="0.6">*</text>
<text transform="translate(222.9,439.33)" font-size="16.8" text-anchor="middle" stroke="#000" stroke-width="0.6">*</text>
<text transform="translate(67.69,453.5) scale(1,1.07)" font-size="10.6" stroke="#000" stroke-width="0.56">Stimulus</text>
<line x1="80.7" y1="458.5" x2="80.7" y2="477.2" stroke="#000" stroke-width="1.4"/>
<polygon points="78.1,476.2 83.3,476.2 80.7,482.5" fill="#000"/>
<line x1="69.4" y1="327" x2="83.4" y2="327" stroke="#000" stroke-width="1.8"/>
<polygon points="76.4,323.18 79.9,330.53 72.9,330.53" fill="#000"/>
<text transform="translate(85.61,332.3)" font-size="14.3" stroke="#000" stroke-width="0.6">Glucose</text>
<line x1="69.4" y1="341.9" x2="83.4" y2="341.9" stroke="#000" stroke-width="1.8"/>
<polygon points="76.4,337.39 80.53,346.06 72.27,346.06" fill="#000"/>
<polygon points="76.4,340.93 78.12,344.54 74.68,344.54" fill="#fff"/>
<text transform="translate(85.24,346.9)" font-size="14.3" stroke="#000" stroke-width="0.6">Ringer</text>
<line x1="460" y1="315.46" x2="460" y2="524.6" stroke="#000" stroke-width="3.6"/>
<circle cx="460" cy="315.46" r="1.8" fill="#000"/>
<line x1="455.8" y1="522.7" x2="460" y2="522.7" stroke="#000" stroke-width="2.8"/>
<text transform="translate(446.7,528.9) scale(1,1.13)" font-size="14.2" stroke="#000" stroke-width="0.53">0</text>
<line x1="455.8" y1="488.16" x2="460" y2="488.16" stroke="#000" stroke-width="2.8"/>
<text transform="translate(446.7,494.36) scale(1,1.13)" font-size="14.2" stroke="#000" stroke-width="0.53">2</text>
<line x1="455.8" y1="453.62" x2="460" y2="453.62" stroke="#000" stroke-width="2.8"/>
<text transform="translate(446.7,459.82) scale(1,1.13)" font-size="14.2" stroke="#000" stroke-width="0.53">4</text>
<line x1="455.8" y1="419.08" x2="460" y2="419.08" stroke="#000" stroke-width="2.8"/>
<text transform="translate(446.7,425.28) scale(1,1.13)" font-size="14.2" stroke="#000" stroke-width="0.53">6</text>
<line x1="455.8" y1="384.54" x2="460" y2="384.54" stroke="#000" stroke-width="2.8"/>
<text transform="translate(446.7,390.74) scale(1,1.13)" font-size="14.2" stroke="#000" stroke-width="0.53">8</text>
<line x1="455.8" y1="350" x2="460" y2="350" stroke="#000" stroke-width="2.8"/>
<polygon points="444.56,356.2 444.56,345 443,345 442.22,346.01 439.66,347.45 439.66,349.62 442.43,348.1 442.43,356.2" fill="#000" stroke="#000" stroke-width="0.6" stroke-linejoin="round"/>
<text transform="translate(446.7,356.2) scale(1,1.13)" font-size="14.2" stroke="#000" stroke-width="0.53">0</text>
<line x1="455.8" y1="315.46" x2="460" y2="315.46" stroke="#000" stroke-width="2.8"/>
<polygon points="444.56,321.66 444.56,310.46 443,310.46 442.22,311.47 439.66,312.91 439.66,315.08 442.43,313.56 442.43,321.66" fill="#000" stroke="#000" stroke-width="0.6" stroke-linejoin="round"/>
<text transform="translate(446.7,321.66) scale(1,1.13)" font-size="14.2" stroke="#000" stroke-width="0.53">2</text>
<line x1="456" y1="522.8" x2="558.4" y2="522.8" stroke="#000" stroke-width="3.6"/>
<line x1="564.7" y1="522.8" x2="708.3" y2="522.8" stroke="#000" stroke-width="3.6"/>
<line x1="714.6" y1="522.8" x2="760.4" y2="522.8" stroke="#000" stroke-width="3.6"/>
<ellipse cx="558.4" cy="522.8" rx="1.7" ry="3.2" fill="#000"/>
<ellipse cx="564.7" cy="522.8" rx="1.7" ry="3.2" fill="#000"/>
<ellipse cx="708.3" cy="522.8" rx="1.7" ry="3.2" fill="#000"/>
<ellipse cx="714.6" cy="522.8" rx="1.7" ry="3.2" fill="#000"/>
<circle cx="760.4" cy="522.8" r="1.8" fill="#000"/>
<line x1="472.1" y1="522.8" x2="472.1" y2="527.2" stroke="#000" stroke-width="2.8"/>
<text transform="translate(468.15,541.3) scale(1,1.13)" font-size="14.2" stroke="#000" stroke-width="0.53">0</text>
<line x1="508.9" y1="522.8" x2="508.9" y2="527.2" stroke="#000" stroke-width="2.8"/>
<text transform="translate(501,541.3) scale(1,1.13)" font-size="14.2" stroke="#000" stroke-width="0.53">3</text>
<text transform="translate(508.9,541.3) scale(1,1.13)" font-size="14.2" stroke="#000" stroke-width="0.53">0</text>
<line x1="546" y1="522.8" x2="546" y2="527.2" stroke="#000" stroke-width="2.8"/>
<text transform="translate(538.1,541.3) scale(1,1.13)" font-size="14.2" stroke="#000" stroke-width="0.53">6</text>
<text transform="translate(546,541.3) scale(1,1.13)" font-size="14.2" stroke="#000" stroke-width="0.53">0</text>
<line x1="575.2" y1="522.8" x2="575.2" y2="527.2" stroke="#000" stroke-width="2.8"/>
<polygon points="569.11,541.3 569.11,530.1 567.55,530.1 566.77,531.11 564.21,532.55 564.21,534.72 566.98,533.2 566.98,541.3" fill="#000" stroke="#000" stroke-width="0.6" stroke-linejoin="round"/>
<text transform="translate(571.25,541.3) scale(1,1.13)" font-size="14.2" stroke="#000" stroke-width="0.53">8</text>
<text transform="translate(579.15,541.3) scale(1,1.13)" font-size="14.2" stroke="#000" stroke-width="0.53">0</text>
<line x1="697.8" y1="522.8" x2="697.8" y2="527.2" stroke="#000" stroke-width="2.8"/>
<text transform="translate(685.96,541.3) scale(1,1.13)" font-size="14.2" stroke="#000" stroke-width="0.53">3</text>
<text transform="translate(693.85,541.3) scale(1,1.13)" font-size="14.2" stroke="#000" stroke-width="0.53">0</text>
<text transform="translate(701.75,541.3) scale(1,1.13)" font-size="14.2" stroke="#000" stroke-width="0.53">0</text>
<line x1="737.3" y1="522.8" x2="737.3" y2="527.2" stroke="#000" stroke-width="2.8"/>
<polygon points="727.26,541.3 727.26,530.1 725.7,530.1 724.92,531.11 722.36,532.55 722.36,534.72 725.13,533.2 725.13,541.3" fill="#000" stroke="#000" stroke-width="0.6" stroke-linejoin="round"/>
<text transform="translate(729.4,541.3) scale(1,1.13)" font-size="14.2" stroke="#000" stroke-width="0.53">8</text>
<text transform="translate(737.3,541.3) scale(1,1.13)" font-size="14.2" stroke="#000" stroke-width="0.53">0</text>
<text transform="translate(745.2,541.3) scale(1,1.13)" font-size="14.2" stroke="#000" stroke-width="0.53">0</text>
<text transform="translate(566.12,565.2)" font-size="16.4" stroke="#000" stroke-width="0.6">Time (sec.)</text>
<text transform="translate(413.1,414.15) rotate(-90) scale(1.04,1) translate(-56.3,0)" font-size="16.2" stroke="#000" stroke-width="0.7">Fold Secretion</text>
<text transform="translate(432.3,414.4) rotate(-90) scale(1.02,1) translate(-78.41,0)" font-size="16.7" stroke="#000" stroke-width="0.7">(post/pre-response)</text>
<text transform="translate(400.06,310.2)" font-size="25.4" stroke="#000" stroke-width="0.6">d</text>
<clipPath id="cd">
<rect x="440" y="285.46" width="119.1" height="235.34"/>
<rect x="564" y="285.46" width="145" height="235.34"/>
<rect x="713.9" y="285.46" width="56.1" height="235.34"/>
</clipPath>
<path d="M472.1,505.43 L478.26,501.29 L490.57,498.18 L508.9,475.73 L527.52,447.92 L546,415.63 L575.2,404.92 L697.8,405.78 L737.3,346.2" fill="none" stroke="#000" stroke-width="2.3" stroke-linejoin="round" clip-path="url(#cd)"/>
<path d="M472.1,505.43 L478.26,490.41 L490.57,468.47 L508.9,458.8 L527.52,453.79 L546,438.77 L575.2,451.72 L697.8,466.57 L737.3,412.69" fill="none" stroke="#000" stroke-width="2.3" stroke-linejoin="round" clip-path="url(#cd)"/>
<path d="M472.1,505.43 L478.26,486.09 L490.57,474.34 L508.9,411.14 L527.52,433.93 L546,468.13 L575.2,462.26 L697.8,505.43 L737.3,492.48" fill="none" stroke="#000" stroke-width="2.3" stroke-linejoin="round" clip-path="url(#cd)"/>
<line x1="472.1" y1="503.7" x2="472.1" y2="505.43" stroke="#000" stroke-width="1.9"/>
<line x1="468.4" y1="503.7" x2="475.8" y2="503.7" stroke="#000" stroke-width="1.9"/>
<line x1="472.1" y1="506.81" x2="472.1" y2="505.43" stroke="#000" stroke-width="1.9"/>
<line x1="468.4" y1="506.81" x2="475.8" y2="506.81" stroke="#000" stroke-width="1.9"/>
<line x1="478.26" y1="499.39" x2="478.26" y2="501.29" stroke="#000" stroke-width="1.9"/>
<line x1="474.56" y1="499.39" x2="481.96" y2="499.39" stroke="#000" stroke-width="1.9"/>
<line x1="478.26" y1="503.7" x2="478.26" y2="501.29" stroke="#000" stroke-width="1.9"/>
<line x1="474.56" y1="503.7" x2="481.96" y2="503.7" stroke="#000" stroke-width="1.9"/>
<line x1="490.57" y1="492.48" x2="490.57" y2="498.18" stroke="#000" stroke-width="1.9"/>
<line x1="486.88" y1="492.48" x2="494.27" y2="492.48" stroke="#000" stroke-width="1.9"/>
<line x1="490.57" y1="502.84" x2="490.57" y2="498.18" stroke="#000" stroke-width="1.9"/>
<line x1="486.88" y1="502.84" x2="494.27" y2="502.84" stroke="#000" stroke-width="1.9"/>
<line x1="508.9" y1="466.57" x2="508.9" y2="475.73" stroke="#000" stroke-width="1.9"/>
<line x1="505.2" y1="466.57" x2="512.6" y2="466.57" stroke="#000" stroke-width="1.9"/>
<line x1="508.9" y1="484.19" x2="508.9" y2="475.73" stroke="#000" stroke-width="1.9"/>
<line x1="505.2" y1="484.19" x2="512.6" y2="484.19" stroke="#000" stroke-width="1.9"/>
<line x1="527.52" y1="431.69" x2="527.52" y2="447.92" stroke="#000" stroke-width="1.9"/>
<line x1="523.82" y1="431.69" x2="531.23" y2="431.69" stroke="#000" stroke-width="1.9"/>
<line x1="527.52" y1="464.85" x2="527.52" y2="447.92" stroke="#000" stroke-width="1.9"/>
<line x1="523.82" y1="464.85" x2="531.23" y2="464.85" stroke="#000" stroke-width="1.9"/>
<line x1="546" y1="400.6" x2="546" y2="415.63" stroke="#000" stroke-width="1.9"/>
<line x1="542.3" y1="400.6" x2="549.7" y2="400.6" stroke="#000" stroke-width="1.9"/>
<line x1="546" y1="431.69" x2="546" y2="415.63" stroke="#000" stroke-width="1.9"/>
<line x1="542.3" y1="431.69" x2="549.7" y2="431.69" stroke="#000" stroke-width="1.9"/>
<line x1="575.2" y1="386.61" x2="575.2" y2="404.92" stroke="#000" stroke-width="1.9"/>
<line x1="571.5" y1="386.61" x2="578.9" y2="386.61" stroke="#000" stroke-width="1.9"/>
<line x1="575.2" y1="422.02" x2="575.2" y2="404.92" stroke="#000" stroke-width="1.9"/>
<line x1="571.5" y1="422.02" x2="578.9" y2="422.02" stroke="#000" stroke-width="1.9"/>
<line x1="697.8" y1="385.58" x2="697.8" y2="405.78" stroke="#000" stroke-width="1.9"/>
<line x1="694.1" y1="385.58" x2="701.5" y2="385.58" stroke="#000" stroke-width="1.9"/>
<line x1="697.8" y1="425.82" x2="697.8" y2="405.78" stroke="#000" stroke-width="1.9"/>
<line x1="694.1" y1="425.82" x2="701.5" y2="425.82" stroke="#000" stroke-width="1.9"/>
<line x1="737.3" y1="341.02" x2="737.3" y2="346.2" stroke="#000" stroke-width="1.9"/>
<line x1="733.6" y1="341.02" x2="741" y2="341.02" stroke="#000" stroke-width="1.9"/>
<line x1="737.3" y1="350" x2="737.3" y2="346.2" stroke="#000" stroke-width="1.9"/>
<line x1="733.6" y1="350" x2="741" y2="350" stroke="#000" stroke-width="1.9"/>
<line x1="478.26" y1="484.71" x2="478.26" y2="490.41" stroke="#000" stroke-width="1.9"/>
<line x1="474.56" y1="484.71" x2="481.96" y2="484.71" stroke="#000" stroke-width="1.9"/>
<line x1="478.26" y1="495.93" x2="478.26" y2="490.41" stroke="#000" stroke-width="1.9"/>
<line x1="474.56" y1="495.93" x2="481.96" y2="495.93" stroke="#000" stroke-width="1.9"/>
<line x1="490.57" y1="458.8" x2="490.57" y2="468.47" stroke="#000" stroke-width="1.9"/>
<line x1="486.88" y1="458.8" x2="494.27" y2="458.8" stroke="#000" stroke-width="1.9"/>
<line x1="490.57" y1="478.66" x2="490.57" y2="468.47" stroke="#000" stroke-width="1.9"/>
<line x1="486.88" y1="478.66" x2="494.27" y2="478.66" stroke="#000" stroke-width="1.9"/>
<line x1="508.9" y1="448.44" x2="508.9" y2="458.8" stroke="#000" stroke-width="1.9"/>
<line x1="505.2" y1="448.44" x2="512.6" y2="448.44" stroke="#000" stroke-width="1.9"/>
<line x1="508.9" y1="469.16" x2="508.9" y2="458.8" stroke="#000" stroke-width="1.9"/>
<line x1="505.2" y1="469.16" x2="512.6" y2="469.16" stroke="#000" stroke-width="1.9"/>
<line x1="527.52" y1="444.99" x2="527.52" y2="453.79" stroke="#000" stroke-width="1.9"/>
<line x1="523.82" y1="444.99" x2="531.23" y2="444.99" stroke="#000" stroke-width="1.9"/>
<line x1="527.52" y1="463.64" x2="527.52" y2="453.79" stroke="#000" stroke-width="1.9"/>
<line x1="523.82" y1="463.64" x2="531.23" y2="463.64" stroke="#000" stroke-width="1.9"/>
<line x1="546" y1="424.26" x2="546" y2="438.77" stroke="#000" stroke-width="1.9"/>
<line x1="542.3" y1="424.26" x2="549.7" y2="424.26" stroke="#000" stroke-width="1.9"/>
<line x1="546" y1="453.62" x2="546" y2="438.77" stroke="#000" stroke-width="1.9"/>
<line x1="542.3" y1="453.62" x2="549.7" y2="453.62" stroke="#000" stroke-width="1.9"/>
<line x1="575.2" y1="432.9" x2="575.2" y2="451.72" stroke="#000" stroke-width="1.9"/>
<line x1="571.5" y1="432.9" x2="578.9" y2="432.9" stroke="#000" stroke-width="1.9"/>
<line x1="575.2" y1="470.89" x2="575.2" y2="451.72" stroke="#000" stroke-width="1.9"/>
<line x1="571.5" y1="470.89" x2="578.9" y2="470.89" stroke="#000" stroke-width="1.9"/>
<line x1="697.8" y1="445.85" x2="697.8" y2="466.57" stroke="#000" stroke-width="1.9"/>
<line x1="694.1" y1="445.85" x2="701.5" y2="445.85" stroke="#000" stroke-width="1.9"/>
<line x1="697.8" y1="487.3" x2="697.8" y2="466.57" stroke="#000" stroke-width="1.9"/>
<line x1="694.1" y1="487.3" x2="701.5" y2="487.3" stroke="#000" stroke-width="1.9"/>
<line x1="737.3" y1="401.29" x2="737.3" y2="412.69" stroke="#000" stroke-width="1.9"/>
<line x1="733.6" y1="401.29" x2="741" y2="401.29" stroke="#000" stroke-width="1.9"/>
<line x1="737.3" y1="424.26" x2="737.3" y2="412.69" stroke="#000" stroke-width="1.9"/>
<line x1="733.6" y1="424.26" x2="741" y2="424.26" stroke="#000" stroke-width="1.9"/>
<line x1="508.9" y1="402.5" x2="508.9" y2="411.14" stroke="#000" stroke-width="1.9"/>
<line x1="505.2" y1="402.5" x2="512.6" y2="402.5" stroke="#000" stroke-width="1.9"/>
<line x1="508.9" y1="415.63" x2="508.9" y2="411.14" stroke="#000" stroke-width="1.9"/>
<line x1="505.2" y1="415.63" x2="512.6" y2="415.63" stroke="#000" stroke-width="1.9"/>
<line x1="546" y1="445.85" x2="546" y2="468.13" stroke="#000" stroke-width="1.9"/>
<line x1="542.3" y1="445.85" x2="549.7" y2="445.85" stroke="#000" stroke-width="1.9"/>
<line x1="546" y1="489.2" x2="546" y2="468.13" stroke="#000" stroke-width="1.9"/>
<line x1="542.3" y1="489.2" x2="549.7" y2="489.2" stroke="#000" stroke-width="1.9"/>
<line x1="575.2" y1="437.39" x2="575.2" y2="462.26" stroke="#000" stroke-width="1.9"/>
<line x1="571.5" y1="437.39" x2="578.9" y2="437.39" stroke="#000" stroke-width="1.9"/>
<line x1="575.2" y1="486.43" x2="575.2" y2="462.26" stroke="#000" stroke-width="1.9"/>
<line x1="571.5" y1="486.43" x2="578.9" y2="486.43" stroke="#000" stroke-width="1.9"/>
<line x1="737.3" y1="479.01" x2="737.3" y2="492.48" stroke="#000" stroke-width="1.9"/>
<line x1="733.6" y1="479.01" x2="741" y2="479.01" stroke="#000" stroke-width="1.9"/>
<line x1="737.3" y1="505.43" x2="737.3" y2="492.48" stroke="#000" stroke-width="1.9"/>
<line x1="733.6" y1="505.43" x2="741" y2="505.43" stroke="#000" stroke-width="1.9"/>
<rect x="468.9" y="502.23" width="6.4" height="6.4" fill="#000"/>
<rect x="475.06" y="498.09" width="6.4" height="6.4" fill="#000"/>
<rect x="487.38" y="494.98" width="6.4" height="6.4" fill="#000"/>
<rect x="505.7" y="472.53" width="6.4" height="6.4" fill="#000"/>
<rect x="524.32" y="444.72" width="6.4" height="6.4" fill="#000"/>
<rect x="542.8" y="412.43" width="6.4" height="6.4" fill="#000"/>
<rect x="572" y="401.72" width="6.4" height="6.4" fill="#000"/>
<rect x="694.6" y="402.58" width="6.4" height="6.4" fill="#000"/>
<rect x="734.1" y="343" width="6.4" height="6.4" fill="#000"/>
<circle cx="472.1" cy="505.43" r="3.3" fill="#000"/>
<circle cx="478.26" cy="490.41" r="3.3" fill="#000"/>
<circle cx="490.57" cy="468.47" r="3.3" fill="#000"/>
<circle cx="508.9" cy="458.8" r="3.3" fill="#000"/>
<circle cx="527.52" cy="453.79" r="3.3" fill="#000"/>
<circle cx="546" cy="438.77" r="3.3" fill="#000"/>
<circle cx="575.2" cy="451.72" r="3.3" fill="#000"/>
<circle cx="697.8" cy="466.57" r="3.3" fill="#000"/>
<circle cx="737.3" cy="412.69" r="3.3" fill="#000"/>
<polygon points="472.1,501.61 475.6,508.96 468.6,508.96" fill="#000"/>
<polygon points="478.26,482.27 481.76,489.62 474.76,489.62" fill="#000"/>
<polygon points="490.57,470.52 494.07,477.87 487.07,477.87" fill="#000"/>
<polygon points="508.9,407.31 512.4,414.66 505.4,414.66" fill="#000"/>
<polygon points="527.52,430.11 531.02,437.46 524.02,437.46" fill="#000"/>
<polygon points="546,464.3 549.5,471.65 542.5,471.65" fill="#000"/>
<polygon points="575.2,458.43 578.7,465.78 571.7,465.78" fill="#000"/>
<polygon points="697.8,501.61 701.3,508.96 694.3,508.96" fill="#000"/>
<polygon points="737.3,488.66 740.8,496.01 733.8,496.01" fill="#000"/>
<line x1="465.7" y1="325.5" x2="479.5" y2="325.5" stroke="#000" stroke-width="1.8"/>
<rect x="469.5" y="322.4" width="6.2" height="6.2" fill="#000"/>
<text transform="translate(480.77,331.2) scale(1,1.08)" font-size="13.9" stroke="#000" stroke-width="0.56">Insulin</text>
<line x1="465.7" y1="341" x2="479.5" y2="341" stroke="#000" stroke-width="1.8"/>
<circle cx="472.6" cy="341" r="3.1" fill="#000"/>
<text transform="translate(481.35,346.4) scale(1,1.08)" font-size="13.9" stroke="#000" stroke-width="0.56">ATP</text>
<line x1="465.7" y1="356.5" x2="479.5" y2="356.5" stroke="#000" stroke-width="1.8"/>
<polygon points="472.6,353.11 475.7,359.62 469.5,359.62" fill="#000"/>
<text transform="translate(481.29,361.6) scale(1,1.08)" font-size="13.9" stroke="#000" stroke-width="0.56">Zinc</text>
</svg>
</body></html>
